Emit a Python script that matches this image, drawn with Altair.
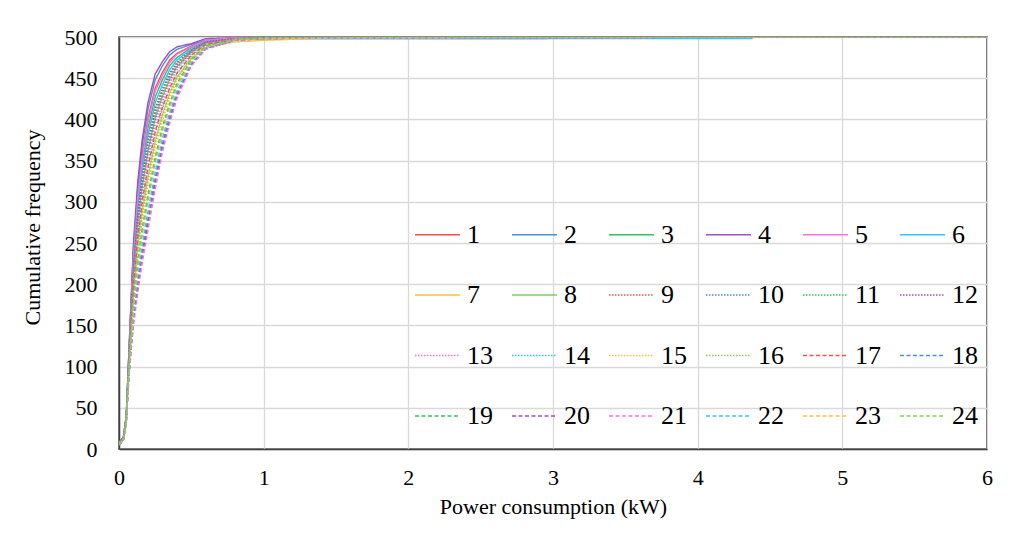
import altair as alt
import pandas as pd

# Shared power grid (kW) at which the cumulative counts were read
X = [0, 0.03, 0.05, 0.07, 0.1, 0.13, 0.16, 0.2, 0.25, 0.3, 0.35, 0.4, 0.5, 0.6, 0.8, 1.0, 1.5, 6.0]

S1 = [8, 14, 39, 121, 238, 309, 357, 401, 438, 457, 472, 480, 489, 496, 499, 500, 500, 500]
S2 = [8, 14, 40, 123, 245, 318, 368, 412, 448, 465, 478, 485, 491, 496, 497, 498, 498, 498]
S3 = [7, 13, 38, 118, 230, 298, 345, 389, 427, 448, 465, 475, 487, 495, 498, 500, 500, 500]
S4 = [8, 14, 40, 125, 250, 325, 375, 420, 455, 470, 482, 488, 492, 498, 499, 500, 500, 500]
S5 = [8, 13, 38, 120, 235, 305, 352, 397, 434, 453, 469, 479, 488, 496, 499, 500, 500, 500]
S6 = [7, 13, 37, 116, 225, 291, 337, 381, 420, 442, 460, 472, 485, 494, 497, 498, 498, 498]
S7 = [6, 12, 34, 105, 192, 247, 288, 330, 374, 406, 432, 451, 474, 487, 494, 496, 499, 500]
S8 = [7, 12, 36, 112, 212, 274, 318, 361, 402, 428, 449, 464, 482, 493, 498, 499, 500, 500]
S9 = [7, 13, 36, 113, 215, 278, 322, 366, 406, 432, 452, 466, 483, 493, 498, 499, 500, 500]
S10 = [7, 12, 36, 111, 210, 271, 315, 358, 399, 426, 447, 463, 481, 493, 498, 499, 500, 500]
S11 = [7, 13, 37, 114, 218, 282, 327, 370, 410, 435, 454, 468, 483, 494, 498, 499, 500, 500]
S12 = [7, 13, 37, 114, 220, 285, 330, 374, 413, 437, 456, 469, 484, 494, 498, 499, 500, 500]
S13 = [7, 12, 35, 109, 205, 264, 307, 350, 392, 420, 443, 460, 480, 492, 498, 499, 500, 500]
S14 = [6, 12, 35, 107, 198, 255, 297, 339, 382, 413, 437, 455, 478, 491, 497, 499, 500, 500]
S15 = [6, 11, 34, 102, 185, 237, 277, 319, 364, 398, 425, 447, 474, 490, 497, 499, 500, 500]
S16 = [6, 12, 34, 104, 190, 244, 285, 327, 371, 404, 430, 450, 476, 490, 497, 499, 500, 500]
S17 = [6, 12, 35, 107, 200, 257, 300, 342, 385, 415, 438, 456, 478, 491, 497, 499, 500, 500]
S18 = [5, 10, 31, 94, 160, 203, 240, 280, 329, 371, 404, 431, 468, 486, 496, 498, 499, 500]
S19 = [6, 11, 33, 100, 178, 228, 267, 308, 354, 391, 419, 443, 473, 489, 497, 499, 500, 500]
S20 = [5, 10, 31, 92, 155, 197, 233, 273, 322, 366, 399, 428, 466, 486, 496, 498, 499, 500]
S21 = [5, 10, 30, 90, 150, 190, 225, 265, 315, 360, 395, 425, 465, 485, 496, 498, 499, 500]
S22 = [5, 11, 32, 95, 165, 210, 248, 288, 336, 377, 408, 434, 469, 487, 496, 498, 499, 500]
S23 = [6, 11, 32, 98, 172, 220, 258, 299, 346, 384, 414, 439, 471, 488, 497, 498, 499, 500]
S24 = [6, 11, 33, 99, 175, 224, 263, 304, 350, 388, 417, 441, 472, 488, 497, 499, 500, 500]

SERIES = [S1, S2, S3, S4, S5, S6, S7, S8, S9, S10, S11, S12,
          S13, S14, S15, S16, S17, S18, S19, S20, S21, S22, S23, S24]
# Maximum power of each series (last point)
END_X = [6.0, 2.96, 6.0, 6.0, 6.0, 4.38, 6.0, 6.0, 6.0, 6.0, 6.0, 6.0,
         6.0, 6.0, 6.0, 6.0, 6.0, 6.0, 6.0, 6.0, 6.0, 6.0, 6.0, 6.0]
NAMES = [str(i) for i in range(1, 25)]

BASE = ["#ff4d4d", "#4a90d9", "#2fc463", "#9b50c8", "#ff6fdc", "#33c3f5", "#ffc040", "#7fcf5a"]
COLORS = BASE * 3
DASHES = [[1, 0]] * 8 + [[1.5, 1.5]] * 8 + [[4, 2.5]] * 8

rows = []
for name, ys, xe in zip(NAMES, SERIES, END_X):
    xs = X[:-1] + [xe]
    for i, (x, y) in enumerate(zip(xs, ys)):
        rows.append({"series": name, "power": x, "freq": y, "order": i})
df = pd.DataFrame(rows)

FONT = "Liberation Serif"

chart = alt.Chart(df).mark_line(strokeWidth=1.4, clip=True).encode(
    x=alt.X("power:Q", title="Power consumption (kW)",
            scale=alt.Scale(domain=[0, 6], nice=False),
            axis=alt.Axis(values=[0, 1, 2, 3, 4, 5, 6], format="d", titleY=57,
                          titleBaseline="middle", labelPadding=18, labelFlush=False)),
    y=alt.Y("freq:Q", title="Cumulative frequency",
            scale=alt.Scale(domain=[0, 500], nice=False),
            axis=alt.Axis(values=list(range(0, 501, 50)), labelPadding=22, labelFlush=False,
                          titleX=-87, titleY=190, titleBaseline="middle")),
    color=alt.Color("series:N", scale=alt.Scale(domain=NAMES, range=COLORS),
                    legend=alt.Legend(title=None, orient="none", legendX=295, legendY=174,
                                      direction="horizontal",
                                      columns=6, symbolType="stroke", symbolSize=2025,
                                      symbolStrokeWidth=1.4, labelFont=FONT, labelFontSize=26,
                                      labelColor="black", labelOffset=6, columnPadding=16,
                                      rowPadding=23.5, padding=0, gridAlign="all")),
    strokeDash=alt.StrokeDash("series:N", scale=alt.Scale(domain=NAMES, range=DASHES)),
    order="order:Q",
).properties(
    width=868, height=412,
    background="white",
    autosize=alt.AutoSizeParams(type="none"),
    padding={"left": 111, "top": 29, "right": 29, "bottom": 80},
).configure_view(
    stroke="#404040", strokeWidth=1.5
).configure_axis(
    labelFont=FONT, labelFontSize=22, labelColor="black",
    titleFont=FONT, titleFontSize=22, titleColor="black", titleFontWeight="normal",
    ticks=False, domainColor="#404040", domainWidth=1.5,
    gridColor="#d9d9d9", gridWidth=1.3,
)

chart.save("out.html", embed_options={"renderer": "svg", "actions": False})
